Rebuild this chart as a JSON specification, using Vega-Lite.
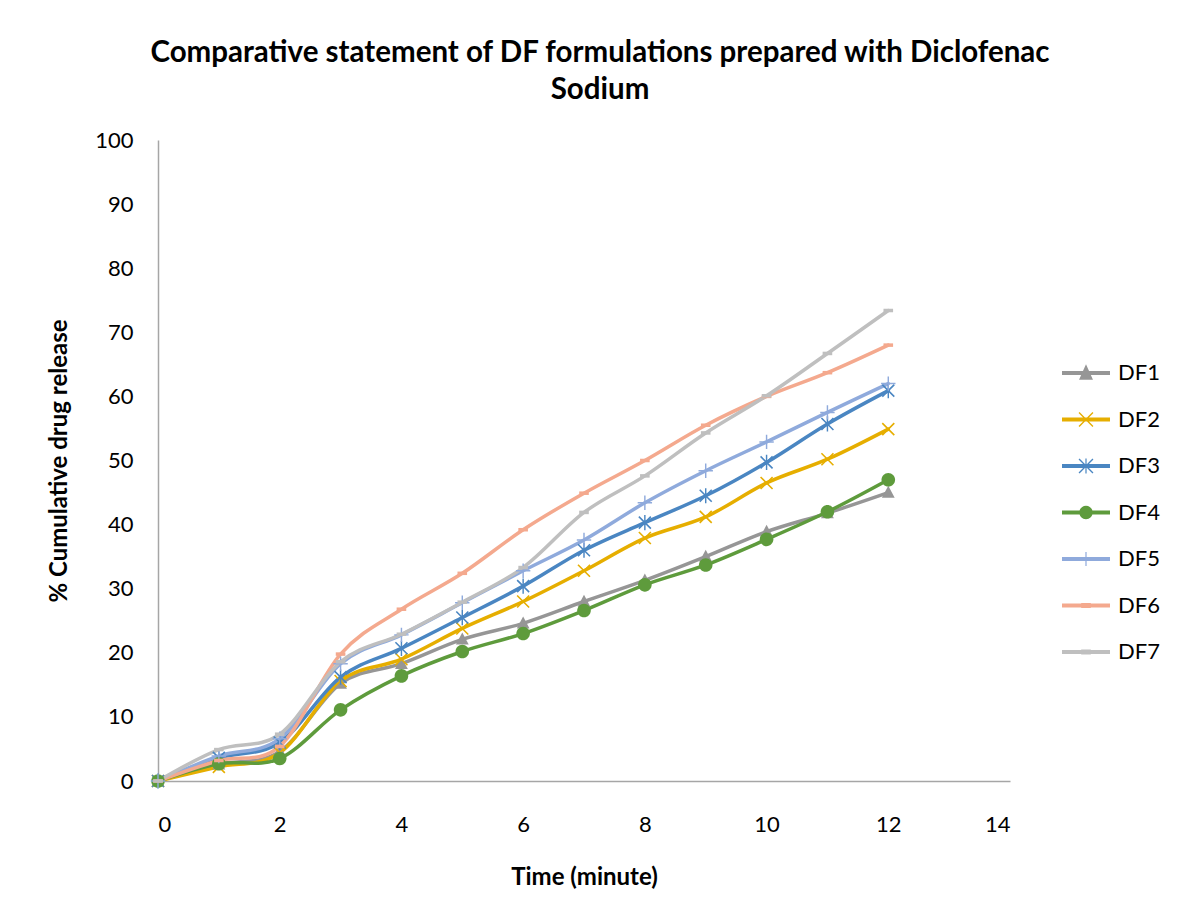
{
  "$schema": "https://vega.github.io/schema/vega-lite/v6.json",
  "width": 852,
  "height": 641,
  "autosize": {"type": "none"},
  "padding": {"left": 158, "top": 140, "right": 170, "bottom": 138},
  "background": "white",
  "config": {
    "view": {"stroke": null},
    "font": "Lato",
    "axis": {"grid": false, "ticks": false, "domainColor": "#A6A6A6", "domainWidth": 1.5, "labelFont": "Lato", "labelFontSize": 22, "labelColor": "#000000", "titleFont": "Lato", "titleFontSize": 24, "titleFontWeight": "bold", "titleColor": "#000000"}
  },
  "title": {
    "text": ["Comparative statement of DF formulations prepared with Diclofenac", "Sodium"],
    "font": "Lato", "fontSize": 29.5, "fontWeight": "bold", "color": "#000000",
    "anchor": "middle", "dx": 16, "offset": 24, "lineHeight": 37
  },
  "data": {"values": [
    {"formulation": "DF1", "time": 0, "release": 0}, {"formulation": "DF1", "time": 1, "release": 2.6}, {"formulation": "DF1", "time": 2, "release": 4.6}, {"formulation": "DF1", "time": 3, "release": 15.2}, {"formulation": "DF1", "time": 4, "release": 18.3}, {"formulation": "DF1", "time": 5, "release": 22.1}, {"formulation": "DF1", "time": 6, "release": 24.6}, {"formulation": "DF1", "time": 7, "release": 28.0}, {"formulation": "DF1", "time": 8, "release": 31.3}, {"formulation": "DF1", "time": 9, "release": 35.0}, {"formulation": "DF1", "time": 10, "release": 38.9}, {"formulation": "DF1", "time": 11, "release": 41.8}, {"formulation": "DF1", "time": 12, "release": 45.0},
    {"formulation": "DF2", "time": 0, "release": 0}, {"formulation": "DF2", "time": 1, "release": 2.2}, {"formulation": "DF2", "time": 2, "release": 4.4}, {"formulation": "DF2", "time": 3, "release": 15.6}, {"formulation": "DF2", "time": 4, "release": 19.0}, {"formulation": "DF2", "time": 5, "release": 23.8}, {"formulation": "DF2", "time": 6, "release": 28.0}, {"formulation": "DF2", "time": 7, "release": 32.8}, {"formulation": "DF2", "time": 8, "release": 37.9}, {"formulation": "DF2", "time": 9, "release": 41.2}, {"formulation": "DF2", "time": 10, "release": 46.5}, {"formulation": "DF2", "time": 11, "release": 50.2}, {"formulation": "DF2", "time": 12, "release": 54.9},
    {"formulation": "DF3", "time": 0, "release": 0}, {"formulation": "DF3", "time": 1, "release": 3.6}, {"formulation": "DF3", "time": 2, "release": 6.0}, {"formulation": "DF3", "time": 3, "release": 16.2}, {"formulation": "DF3", "time": 4, "release": 20.7}, {"formulation": "DF3", "time": 5, "release": 25.5}, {"formulation": "DF3", "time": 6, "release": 30.4}, {"formulation": "DF3", "time": 7, "release": 36.0}, {"formulation": "DF3", "time": 8, "release": 40.3}, {"formulation": "DF3", "time": 9, "release": 44.5}, {"formulation": "DF3", "time": 10, "release": 49.7}, {"formulation": "DF3", "time": 11, "release": 55.7}, {"formulation": "DF3", "time": 12, "release": 60.9},
    {"formulation": "DF4", "time": 0, "release": 0}, {"formulation": "DF4", "time": 1, "release": 2.7}, {"formulation": "DF4", "time": 2, "release": 3.5}, {"formulation": "DF4", "time": 3, "release": 11.1}, {"formulation": "DF4", "time": 4, "release": 16.4}, {"formulation": "DF4", "time": 5, "release": 20.2}, {"formulation": "DF4", "time": 6, "release": 23.0}, {"formulation": "DF4", "time": 7, "release": 26.6}, {"formulation": "DF4", "time": 8, "release": 30.6}, {"formulation": "DF4", "time": 9, "release": 33.7}, {"formulation": "DF4", "time": 10, "release": 37.7}, {"formulation": "DF4", "time": 11, "release": 42.0}, {"formulation": "DF4", "time": 12, "release": 47.0},
    {"formulation": "DF5", "time": 0, "release": 0}, {"formulation": "DF5", "time": 1, "release": 3.9}, {"formulation": "DF5", "time": 2, "release": 6.6}, {"formulation": "DF5", "time": 3, "release": 18.3}, {"formulation": "DF5", "time": 4, "release": 22.8}, {"formulation": "DF5", "time": 5, "release": 27.8}, {"formulation": "DF5", "time": 6, "release": 32.8}, {"formulation": "DF5", "time": 7, "release": 37.6}, {"formulation": "DF5", "time": 8, "release": 43.4}, {"formulation": "DF5", "time": 9, "release": 48.4}, {"formulation": "DF5", "time": 10, "release": 52.9}, {"formulation": "DF5", "time": 11, "release": 57.5}, {"formulation": "DF5", "time": 12, "release": 62.0},
    {"formulation": "DF6", "time": 0, "release": 0}, {"formulation": "DF6", "time": 1, "release": 3.2}, {"formulation": "DF6", "time": 2, "release": 5.4}, {"formulation": "DF6", "time": 3, "release": 19.8}, {"formulation": "DF6", "time": 4, "release": 26.8}, {"formulation": "DF6", "time": 5, "release": 32.4}, {"formulation": "DF6", "time": 6, "release": 39.2}, {"formulation": "DF6", "time": 7, "release": 44.9}, {"formulation": "DF6", "time": 8, "release": 50.0}, {"formulation": "DF6", "time": 9, "release": 55.5}, {"formulation": "DF6", "time": 10, "release": 60.0}, {"formulation": "DF6", "time": 11, "release": 63.7}, {"formulation": "DF6", "time": 12, "release": 68.0},
    {"formulation": "DF7", "time": 0, "release": 0}, {"formulation": "DF7", "time": 1, "release": 4.9}, {"formulation": "DF7", "time": 2, "release": 7.3}, {"formulation": "DF7", "time": 3, "release": 18.6}, {"formulation": "DF7", "time": 4, "release": 22.9}, {"formulation": "DF7", "time": 5, "release": 27.9}, {"formulation": "DF7", "time": 6, "release": 33.3}, {"formulation": "DF7", "time": 7, "release": 41.9}, {"formulation": "DF7", "time": 8, "release": 47.6}, {"formulation": "DF7", "time": 9, "release": 54.3}, {"formulation": "DF7", "time": 10, "release": 60.1}, {"formulation": "DF7", "time": 11, "release": 66.7}, {"formulation": "DF7", "time": 12, "release": 73.4}
  ]},
  "encoding": {
    "x": {"field": "time", "type": "quantitative", "scale": {"domain": [0, 14], "nice": false, "zero": true}, "axis": {"values": [0, 2, 4, 6, 8, 10, 12, 14], "title": "Time (minute)", "labelPadding": 33, "titlePadding": 30}},
    "y": {"field": "release", "type": "quantitative", "scale": {"domain": [0, 100], "nice": false}, "axis": {"values": [0, 10, 20, 30, 40, 50, 60, 70, 80, 90, 100], "title": "% Cumulative drug release", "labelPadding": 25, "titlePadding": 23}}
  },
  "layer": [
    {"transform": [{"filter": "false"}],
     "mark": {"type": "point", "filled": true, "opacity": 1, "strokeWidth": 0},
     "encoding": {
       "color": {"field": "formulation", "type": "nominal",
         "scale": {"domain": ["DF1", "DF2", "DF3", "DF4", "DF5", "DF6", "DF7"], "range": ["#969696", "#E6AE00", "#4A86C2", "#5E9B3C", "#8FAADC", "#F4A98E", "#BFBFBF"]},
         "legend": {"title": null, "orient": "none", "legendX": 904, "legendY": 209, "symbolSize": 2304, "symbolStrokeWidth": 0, "symbolOpacity": 1, "labelFont": "Lato", "labelFontSize": 22, "labelColor": "#000000", "labelOffset": 8, "rowPadding": 11.5, "padding": 0}},
       "shape": {"field": "formulation", "type": "nominal",
         "legend": {"title": null, "orient": "none", "legendX": 904, "legendY": 209, "symbolSize": 2304, "symbolStrokeWidth": 0, "symbolOpacity": 1, "labelFont": "Lato", "labelFontSize": 22, "labelColor": "#000000", "labelOffset": 8, "rowPadding": 11.5, "padding": 0},
         "scale": {"domain": ["DF1", "DF2", "DF3", "DF4", "DF5", "DF6", "DF7"], "range": [
           "M-1,-0.08H1V0.08H-1Z M0,-0.36L0.29,0.28L-0.29,0.28Z",
           "M-1,-0.08H1V0.08H-1Z M-0.27,-0.31L0.31,0.27L0.27,0.31L-0.31,-0.27Z M-0.27,0.31L-0.31,0.27L0.27,-0.31L0.31,-0.27Z",
           "M-1,-0.08H1V0.08H-1Z M-0.27,-0.31L0.31,0.27L0.27,0.31L-0.31,-0.27Z M-0.27,0.31L-0.31,0.27L0.27,-0.31L0.31,-0.27Z M-0.025,-0.31H0.025V0.31H-0.025Z",
           "M-1,-0.08H1V0.08H-1Z M-0.28,0A0.28,0.28 0 1,1 0.28,0A0.28,0.28 0 1,1 -0.28,0Z",
           "M-1,-0.08H1V0.08H-1Z M-0.025,-0.29H0.025V0.29H-0.025Z",
           "M-1,-0.08H1V0.08H-1Z M-0.2,-0.1H0.2V0.1H-0.2Z",
           "M-1,-0.08H1V0.08H-1Z M-0.2,-0.1H0.2V0.1H-0.2Z"
         ]}}
     }},
    {"mark": {"type": "line", "interpolate": "cardinal", "strokeWidth": 3.5, "strokeCap": "round", "strokeJoin": "round"},
     "encoding": {"stroke": {"field": "formulation", "type": "nominal", "legend": null,
       "scale": {"range": ["#969696", "#E6AE00", "#4A86C2", "#5E9B3C", "#8FAADC", "#F4A98E", "#BFBFBF"]}}}},
    {"mark": {"type": "point", "filled": true, "opacity": 1, "size": 256, "strokeWidth": 0},
     "encoding": {
       "fill": {"field": "formulation", "type": "nominal", "legend": null,
         "scale": {"range": ["#969696", "#E6AE00", "#4A86C2", "#5E9B3C", "#8FAADC", "#F4A98E", "#BFBFBF"]}},
       "shape": {"condition": [
         {"test": "datum.formulation === 'DF1'", "value": "M0,-0.85L0.8,0.65L-0.8,0.65Z"},
         {"test": "datum.formulation === 'DF2'", "value": "M-0.68,-0.82L0.82,0.68L0.68,0.82L-0.82,-0.68Z M-0.68,0.82L-0.82,0.68L0.68,-0.82L0.82,-0.68Z"},
         {"test": "datum.formulation === 'DF3'", "value": "M-0.68,-0.82L0.82,0.68L0.68,0.82L-0.82,-0.68Z M-0.68,0.82L-0.82,0.68L0.68,-0.82L0.82,-0.68Z M-0.09,-0.95H0.09V0.95H-0.09Z"},
         {"test": "datum.formulation === 'DF4'", "value": "M-0.85,0A0.85,0.85 0 1,1 0.85,0A0.85,0.85 0 1,1 -0.85,0Z"},
         {"test": "datum.formulation === 'DF5'", "value": "M-0.09,-0.9H0.09V0.9H-0.09Z M-0.9,-0.09H0.9V0.09H-0.9Z"}
       ], "value": "M-0.6,-0.22H0.6V0.22H-0.6Z"}
     }}
  ]
}
